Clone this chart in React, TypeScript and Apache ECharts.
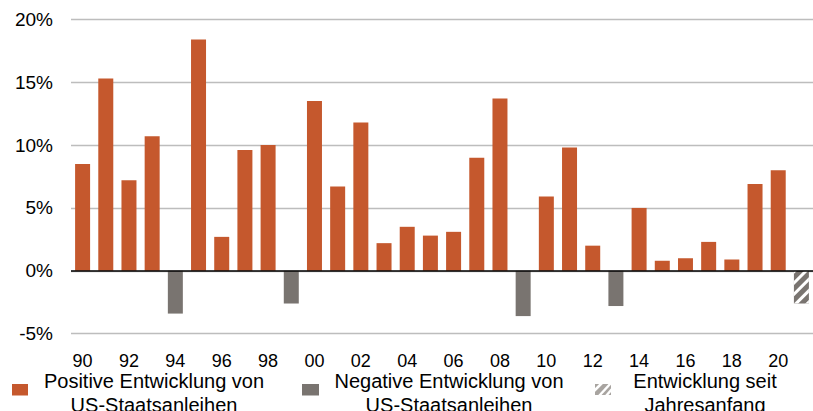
import React, { useEffect, useRef } from "react";
import * as echarts from "echarts";

const categories = [
  "90", "91", "92", "93", "94", "95", "96", "97", "98", "99",
  "00", "01", "02", "03", "04", "05", "06", "07", "08", "09",
  "10", "11", "12", "13", "14", "15", "16", "17", "18", "19",
  "20", "21",
];
const returns = [
  8.5, 15.3, 7.2, 10.7, -3.4, 18.4, 2.7, 9.6, 10.0, -2.6,
  13.5, 6.7, 11.8, 2.2, 3.5, 2.8, 3.1, 9.0, 13.7, -3.6,
  5.9, 9.8, 2.0, -2.8, 5.0, 0.8, 1.0, 2.3, 0.9, 6.9,
  8.0, -2.6,
];
const ytdIndex = 31;
const yTicks = { min: -5, max: 20, interval: 5 };
const legendLabels = [
  "Positive Entwicklung von\nUS-Staatsanleihen",
  "Negative Entwicklung von\nUS-Staatsanleihen",
  "Entwicklung seit\nJahresanfang",
];

const ORANGE = "#C5582D";
const GRAY = "#797470";
const FONT = "'Liberation Sans', Arial, sans-serif";

export default function App() {
  const ref = useRef<HTMLDivElement>(null);
  useEffect(() => {
    if (!ref.current) return;
    const chart = echarts.init(ref.current, undefined, { renderer: "svg" });
    const positive = returns.map((v, i) => (i !== ytdIndex && v >= 0 ? v : "-"));
    const negative = returns.map((v, i) => (i !== ytdIndex && v < 0 ? v : "-"));
    const ytd = returns.map((v, i) => (i === ytdIndex ? v : "-"));

    const hx = 595, hy = 384, hw = 16, hh = 11;
    const legendText = (x: number, text: string) => ({
      type: "text",
      x,
      y: 368.5,
      style: { text, fontSize: 20, lineHeight: 24, fontFamily: FONT, fill: "#000", align: "center", verticalAlign: "top" },
    });
    chart.setOption({
      animation: false,
      textStyle: { fontFamily: FONT },
      grid: { left: 71, top: 19.3, width: 746.6, bottom: 77.3, containLabel: false },
      xAxis: {
        type: "category",
        data: categories,
        axisLine: { show: false, onZero: false },
        axisTick: { show: false },
        axisLabel: { interval: 1, fontSize: 18, lineHeight: 16, color: "#000", margin: 19, fontFamily: FONT },
      },
      yAxis: {
        type: "value",
        min: yTicks.min,
        max: yTicks.max,
        interval: yTicks.interval,
        axisLabel: { formatter: "{value}%", fontSize: 19, color: "#000", margin: 18, fontFamily: FONT },
        splitLine: { lineStyle: { color: "#bdbdbd", width: 1.3 } },
        axisLine: { show: false },
        axisTick: { show: false },
      },
      series: [
        {
          name: "Positive Entwicklung von US-Staatsanleihen",
          type: "bar",
          data: positive,
          barWidth: 15,
          barGap: "-100%",
          itemStyle: { color: ORANGE },
          markLine: {
            silent: true,
            symbol: "none",
            label: { show: false },
            lineStyle: { color: "#000", width: 1.5, type: "solid" },
            data: [{ yAxis: 0 }],
            z: 10,
          },
        },
        {
          name: "Negative Entwicklung von US-Staatsanleihen",
          type: "bar",
          data: negative,
          barWidth: 15,
          barGap: "-100%",
          itemStyle: { color: GRAY },
        },
        {
          name: "Entwicklung seit Jahresanfang",
          type: "bar",
          data: ytd,
          barWidth: 15,
          barGap: "-100%",
          itemStyle: {
            color: GRAY,
            decal: {
              symbol: "rect",
              color: "#ffffff",
              dashArrayX: [1, 0],
              dashArrayY: [2.5, 5],
              rotation: -Math.PI / 4,
            },
          },
        },
      ],
      graphic: [
        { type: "rect", shape: { x: 12, y: 384, width: 16, height: 11.5 }, style: { fill: ORANGE } },
        legendText(154, legendLabels[0]),
        { type: "rect", shape: { x: 302, y: 384, width: 17, height: 11.5 }, style: { fill: GRAY } },
        legendText(449, legendLabels[1]),
        { type: "rect", shape: { x: hx, y: hy, width: hw, height: hh }, style: { fill: "#a8a4a0" } },
        { type: "line", shape: { x1: hx - 1, y1: hy + 7, x2: hx + 7, y2: hy - 1 }, style: { stroke: "#fff", lineWidth: 2.5 } },
        { type: "line", shape: { x1: hx + 4, y1: hy + hh + 1, x2: hx + 16, y2: hy - 1 }, style: { stroke: "#fff", lineWidth: 2.5 } },
        { type: "line", shape: { x1: hx + 11, y1: hy + hh + 1, x2: hx + 17, y2: hy + 5 }, style: { stroke: "#fff", lineWidth: 2.5 } },
        legendText(705, legendLabels[2]),
      ],
    });
    return () => chart.dispose();
  }, []);
  return (
    <div
      ref={ref}
      style={{ position: "absolute", left: 0, top: 0, width: 813, height: 411 }}
    />
  );
}
